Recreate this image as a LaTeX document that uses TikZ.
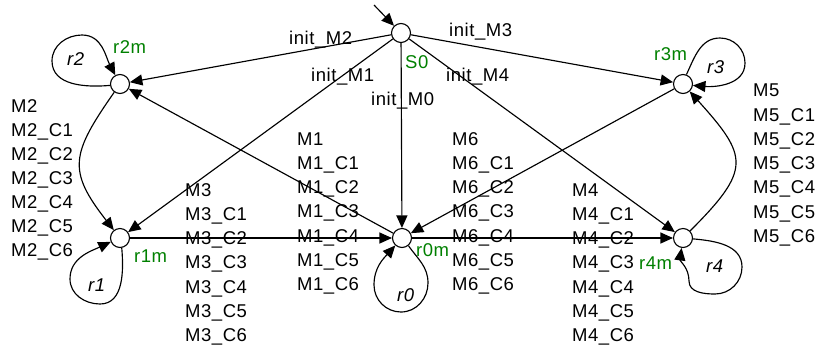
\documentclass[tikz,border=0pt]{standalone}
\usepackage{fontspec}
\setmainfont{Liberation Sans}[LetterSpace=3]
\usetikzlibrary{arrows.meta}
\definecolor{lblgreen}{RGB}{0,128,0}
\begin{document}
\begin{tikzpicture}[x=1pt,y=1pt,
  st/.style={circle,draw,line width=1.1pt,minimum size=19pt,inner sep=0pt,fill=white},
  arr/.style={-{Triangle[length=12.5pt,width=11pt]},line width=1.15pt},
  txt/.style={font=\fontsize{18.5}{20}\selectfont,inner sep=0pt,anchor=base west},
  grn/.style={txt,text=lblgreen},
  lp/.style={txt,font=\fontsize{18.5}{20}\selectfont\itshape}]
\useasboundingbox (0,0) rectangle (816,-349);
% states
\node[st] (S0) at (401,-33) {};
\node[st] (r2m) at (120,-84) {};
\node[st] (r3m) at (683,-84) {};
\node[st] (r1m) at (120,-238) {};
\node[st] (r0m) at (402,-238) {};
\node[st] (r4m) at (683,-238) {};
% state names
\node[grn] (nS0) at (405,-68) {S0};
\node[grn] (nr2m) at (113,-53) {r2m};
\node[grn] (nr3m) at (654,-60) {r3m};
\node[grn] (nr1m) at (134,-262) {r1m};
\node[grn] (nr0m) at (416,-256) {r0m};
\node[grn] (nr4m) at (639,-269) {r4m};
% initial arrow
\coordinate (init) at (374,-5);
\draw[arr] (init) -- (S0);
% init edges
\draw[arr] (S0) -- (r2m);
\draw[arr] (S0) -- (r1m);
\draw[arr] (S0) -- (r0m);
\draw[arr] (S0) -- (r3m);
\draw[arr] (S0) -- (r4m);
\node[txt] (iM2) at (289,-44) {init\_M2};
\node[txt] (iM3) at (449,-36) {init\_M3};
\node[txt] (iM1) at (311,-81) {init\_M1};
\node[txt] (iM4) at (446,-81) {init\_M4};
\node[txt] (iM0) at (371,-105) {init\_M0};
% transitions between states
\draw[arr] (r1m) -- (r0m);
\draw[arr] (r0m) -- (r4m);
\draw[arr] (r0m) -- (r2m);
\draw[arr] (r3m) -- (r0m);
\draw[arr] (r2m) to[out=235,in=128,looseness=1.4] (r1m);
\draw[arr] (r4m) to[out=45,in=-48,looseness=1.6] (r3m);
% self loops (way points)
\coordinate (L2) at (52,-61);  \coordinate (T2) at (82,-35);
\coordinate (T3) at (720,-38); \coordinate (R3) at (745,-63);
\coordinate (B1) at (100,-304); \coordinate (L1) at (70,-279);
\coordinate (R0) at (428,-283); \coordinate (B0) at (401,-312); \coordinate (L0) at (374,-285);
\coordinate (R4) at (742,-267); \coordinate (B4) at (715,-294); \coordinate (L4) at (689,-281);
\draw[arr] (r2m.188) to[out=185,in=-90] (L2) to[out=90,in=180] (T2) to[out=0,in=118] (r2m.118);
\draw[arr] (r3m.70) to[out=65,in=180] (T3) to[out=0,in=90] (R3) to[out=-90,in=-5] (r3m.-8);
\draw[arr] (r1m.-80) to[out=-85,in=0] (B1) to[out=180,in=-90] (L1) to[out=90,in=205] (r1m.203);
\draw[arr] (r0m.-50) to[out=-55,in=90] (R0) to[out=-90,in=0] (B0) to[out=180,in=-90] (L0) to[out=90,in=228] (r0m.228);
\draw[arr] (r4m.-5) to[out=-5,in=90] (R4) to[out=-90,in=0] (B4) to[out=180,in=-90] (L4) to[out=90,in=262] (r4m.262);
\node[lp] (lr2) at (67,-65) {r2};
\node[lp] (lr3) at (707,-73) {r3};
\node[lp] (lr1) at (88,-291) {r1};
\node[lp] (lr0) at (397,-301) {r0};
\node[lp] (lr4) at (706,-272) {r4};
% message lists
\foreach \t [count=\i from 0] in {M2,M2\_C1,M2\_C2,M2\_C3,M2\_C4,M2\_C5,M2\_C6}
  \node[txt] (a\i) at (11,-112-24*\i) {\t};
\foreach \t [count=\i from 0] in {M3,M3\_C1,M3\_C2,M3\_C3,M3\_C4,M3\_C5,M3\_C6}
  \node[txt] (b\i) at (185,-196-24.3*\i) {\t};
\foreach \t [count=\i from 0] in {M1,M1\_C1,M1\_C2,M1\_C3,M1\_C4,M1\_C5,M1\_C6}
  \node[txt] (c\i) at (297,-145-24.3*\i) {\t};
\foreach \t [count=\i from 0] in {M6,M6\_C1,M6\_C2,M6\_C3,M6\_C4,M6\_C5,M6\_C6}
  \node[txt] (d\i) at (452,-145-24.3*\i) {\t};
\foreach \t [count=\i from 0] in {M4,M4\_C1,M4\_C2,M4\_C3,M4\_C4,M4\_C5,M4\_C6}
  \node[txt] (e\i) at (572,-196-24.3*\i) {\t};
\foreach \t [count=\i from 0] in {M5,M5\_C1,M5\_C2,M5\_C3,M5\_C4,M5\_C5,M5\_C6}
  \node[txt] (f\i) at (753,-96.7-24.3*\i) {\t};
\end{tikzpicture}
\end{document}
